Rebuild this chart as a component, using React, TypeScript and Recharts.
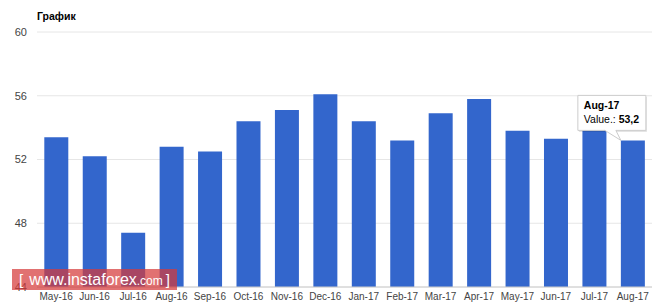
import React from "react";
import { BarChart, Bar, XAxis, YAxis, CartesianGrid, LabelList } from "recharts";

const months = [
  "May-16", "Jun-16", "Jul-16", "Aug-16", "Sep-16", "Oct-16", "Nov-16", "Dec-16",
  "Jan-17", "Feb-17", "Mar-17", "Apr-17", "May-17", "Jun-17", "Jul-17", "Aug-17",
];
const values = [53.4, 52.2, 47.4, 52.8, 52.5, 54.4, 55.1, 56.1, 54.4, 53.2, 54.9, 55.8, 53.8, 53.3, 53.9, 53.2];
const yTicks = [44, 48, 52, 56, 60];
const title = "График";
const tooltipLabel = "Value.: ";

const data = months.map((m, i) => ({ month: m, value: values[i] }));

const FONT = "'Liberation Sans', Arial, sans-serif";

const TooltipLabel = (props: any) => {
  const { x, y, width, index } = props;
  if (index !== data.length - 1) return null;
  const right = x + width + 1;
  const left = right - 68;
  const top = y - 45;
  const bottom = y - 10;
  const v = values[index].toFixed(1).replace(".", ",");
  return (
    <g>
      <rect x={left + 1} y={top + 1.5} width={68} height={35} fill="rgba(0,0,0,0.12)" />
      <path
        d={`M${left},${top} H${right} V${bottom} H${left + 38} L${x},${y} L${left + 27},${bottom} H${left} Z`}
        fill="#ffffff"
        stroke="#cccccc"
        strokeWidth={1}
      />
      <text x={left + 6} y={top + 14} fontFamily={FONT} fontSize={10.5} fontWeight="bold" fill="#000">
        {months[index]}
      </text>
      <text x={left + 6} y={top + 28} fontFamily={FONT} fontSize={10.5} fill="#000">
        {tooltipLabel}
        <tspan fontWeight="bold">{v}</tspan>
      </text>
    </g>
  );
};

export default function App() {
  return (
    <div style={{ position: "fixed", left: 0, top: 0, width: 663, height: 307, background: "#fff", overflow: "hidden" }}>
      <BarChart
        width={663}
        height={307}
        data={data}
        margin={{ top: 32, right: 11, bottom: 0, left: 0 }}
        barCategoryGap="19%"
      >
        <CartesianGrid vertical={false} stroke="#e6e6e6" strokeWidth={1} />
        <XAxis
          dataKey="month"
          height={20}
          interval={0}
          tickLine={false}
          tickSize={0}
          tickMargin={6}
          axisLine={{ stroke: "#cccccc" }}
          tick={{ fontSize: 10, fill: "#444444", fontFamily: FONT }}
        />
        <YAxis
          width={37}
          domain={[44, 60]}
          ticks={yTicks}
          tickLine={false}
          tickSize={0}
          tickMargin={10}
          axisLine={false}
          tick={{ fontSize: 11, fill: "#444444", fontFamily: FONT }}
        />
        <Bar dataKey="value" fill="#3366cc" isAnimationActive={false}>
          <LabelList dataKey="value" content={<TooltipLabel />} />
        </Bar>
      </BarChart>
      <div
        style={{
          position: "absolute",
          left: 37,
          top: 10,
          fontFamily: FONT,
          fontSize: 10.5,
          fontWeight: "bold",
          color: "#000",
          lineHeight: "12px",
        }}
      >
        {title}
      </div>
      <div
        style={{
          position: "absolute",
          left: 12,
          top: 269,
          width: 165,
          height: 21,
          background: "rgba(214, 58, 58, 0.72)",
          color: "#fff",
          fontFamily: FONT,
          display: "flex",
          alignItems: "center",
          justifyContent: "center",
          whiteSpace: "nowrap",
          lineHeight: "21px",
        }}
      >
        <span style={{ fontSize: 15, fontWeight: 300 }}>[</span>
        <span style={{ fontSize: 16, marginLeft: 6 }}>www.instaforex</span>
        <span style={{ fontSize: 12, marginTop: 3 }}>.com</span>
        <span style={{ fontSize: 15, fontWeight: 300, marginLeft: 3 }}>]</span>
      </div>
    </div>
  );
}
